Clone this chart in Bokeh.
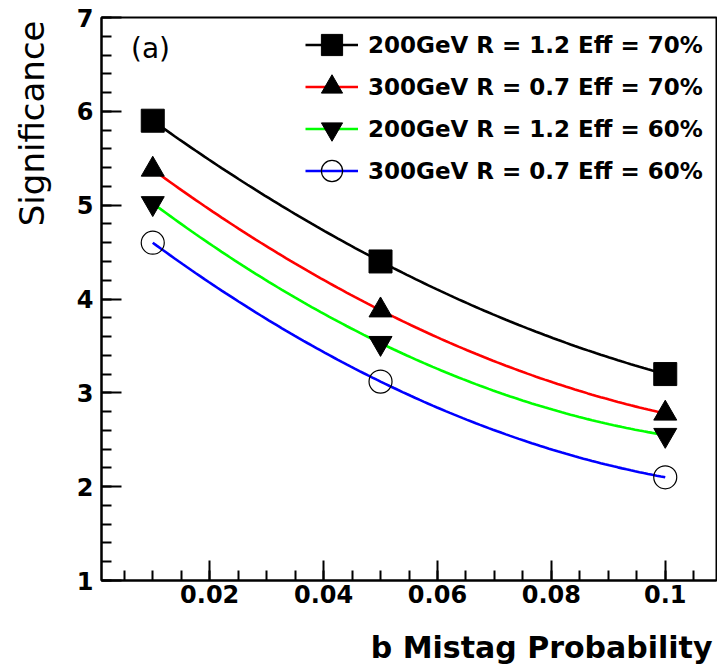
import numpy as np
from bokeh.plotting import figure
from bokeh.models import Range1d, FixedTicker, Label, Legend, LegendItem, Title
from bokeh.embed import file_html
from bokeh.resources import INLINE

# ---- data ----
mistag = [0.01, 0.05, 0.1]
sig_200_r12_eff70 = [5.9, 4.4, 3.2]
sig_300_r07_eff70 = [5.38, 3.88, 2.78]
sig_200_r12_eff60 = [5.02, 3.53, 2.55]
sig_300_r07_eff60 = [4.6, 3.12, 2.1]

series_labels = [
    "200GeV R = 1.2 Eff = 70%",
    "300GeV R = 0.7 Eff = 70%",
    "200GeV R = 1.2 Eff = 60%",
    "300GeV R = 0.7 Eff = 60%",
]
series_values = [sig_200_r12_eff70, sig_300_r07_eff70, sig_200_r12_eff60, sig_300_r07_eff60]
line_colors = ["#000000", "#ff0000", "#00ff00", "#0000ff"]
marker_types = ["square", "triangle", "inverted_triangle", "circle"]

x_ticks = [0.02, 0.04, 0.06, 0.08, 0.1]
x_tick_labels = ["0.02", "0.04", "0.06", "0.08", "0.1"]
y_ticks = [1, 2, 3, 4, 5, 6, 7]
y_tick_labels = ["1", "2", "3", "4", "5", "6", "7"]

x_title = "b Mistag Probability"
y_title = "Significance"
panel_tag = "(a)"

FONT = "DejaVu Sans"

p = figure(width=717, height=666, output_backend="svg", toolbar_location=None,
           x_range=Range1d(0.001, 0.109), y_range=Range1d(1, 7),
           min_border_left=101, min_border_right=1, min_border_top=17, min_border_bottom=84)
p.background_fill_color = "white"
p.border_fill_color = "white"
p.outline_line_color = "black"
p.outline_line_width = 2
p.xgrid.visible = False
p.ygrid.visible = False

p.xaxis.ticker = FixedTicker(ticks=x_ticks, minor_ticks=list(np.arange(0.005, 0.109, 0.005)))
p.xaxis.major_label_overrides = {t: l for t, l in zip(x_ticks, x_tick_labels)}
p.yaxis.ticker = FixedTicker(ticks=y_ticks, minor_ticks=list(np.arange(1.0, 7.001, 0.2)))
p.yaxis.major_label_overrides = {t: l for t, l in zip(y_ticks, y_tick_labels)}

for ax in (p.xaxis[0], p.yaxis[0]):
    ax.axis_line_width = 2
    ax.axis_line_color = "black"
    ax.major_tick_in = 20
    ax.major_tick_out = 0
    ax.minor_tick_in = 10
    ax.minor_tick_out = 0
    ax.major_tick_line_width = 2
    ax.minor_tick_line_width = 2
    ax.major_label_text_font = FONT
    ax.major_label_text_font_style = "bold"
    ax.major_label_text_font_size = "24px"
    ax.major_label_text_color = "black"
    # blank spacer label that pushes the real title outward
    ax.axis_label = " "
    ax.axis_label_text_font_size = "1px"
p.yaxis.major_label_standoff = 8
p.xaxis.major_label_standoff = 4
p.yaxis.axis_label_standoff = 13
p.xaxis.axis_label_standoff = 16

# one legend box per entry, stacked 42 px apart
legend_bottoms = [509, 467, 425, 383]
for lab, vals, col, mk, lb in zip(series_labels, series_values, line_colors, marker_types, legend_bottoms):
    coef = np.polyfit(mistag, vals, 2)
    xs = np.linspace(mistag[0], mistag[-1], 120)
    ys = np.polyval(coef, xs)
    lr = p.line(xs, ys, line_color=col, line_width=2.6)
    if mk == "circle":
        mr = p.scatter(mistag, vals, marker=mk, size=23, fill_color=None,
                       line_color="black", line_width=1.2)
    else:
        mr = p.scatter(mistag, vals, marker=mk, size=23, fill_color="black",
                       line_color="black", line_width=1)
    lg = Legend(items=[LegendItem(label=lab, renderers=[lr, mr])], location=(204, lb),
                glyph_width=53, glyph_height=53, spacing=0, padding=0, margin=0,
                label_standoff=10, label_text_font=FONT, label_text_font_style="bold",
                label_text_font_size="23px", label_text_color="black",
                border_line_color=None, background_fill_alpha=0.0)
    p.add_layout(lg, "center")

p.add_layout(Label(x=49, y=532, x_units="screen", y_units="screen", text=panel_tag,
                   text_font=FONT, text_font_size="28px", text_align="center",
                   text_baseline="middle", text_color="black"))

p.add_layout(Title(text=x_title, align="right", offset=4, standoff=4,
                   text_font=FONT, text_font_style="bold", text_font_size="30px",
                   text_color="black"), "below")
p.add_layout(Title(text=y_title, align="right", offset=3, standoff=10,
                   text_font=FONT, text_font_style="normal", text_font_size="34px",
                   text_color="black"), "left")

open("out.html", "w").write(file_html(p, INLINE))
